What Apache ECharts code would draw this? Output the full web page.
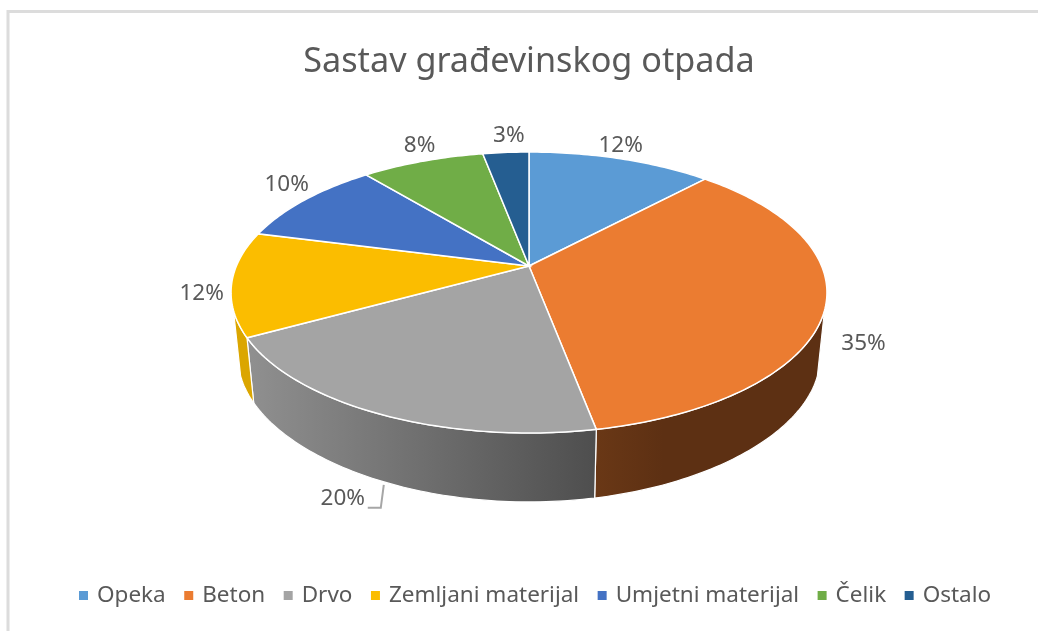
<!DOCTYPE html>
<html><head><meta charset="utf-8">
<style>html,body{margin:0;padding:0;background:#fff}#c{width:1038px;height:631px}</style>
<script src="https://cdn.jsdelivr.net/npm/echarts@6/dist/echarts.min.js"></script>
</head><body><div id="c"></div>
<script>
const titleText = 'Sastav građevinskog otpada';
const categories = ['Opeka','Beton','Drvo','Zemljani materijal','Umjetni materijal','Čelik','Ostalo'];
const values = [12,35,20,12,10,8,3];
const topColors = ['#5B9BD5','#EB7C31','#A4A4A4','#FBBD00','#4472C4','#70AD47','#255E91'];
const sideFrom = ['#3a6d9c','#6a3816','#909090','#dba600','#2f5597','#4e7a31','#1a4266'];
const sideTo = ['#3a6d9c','#5d3013','#4e4e4e','#dba600','#2f5597','#4e7a31','#1a4266'];
// label offsets in px from the slice's rim point at its middle angle
const labelOffsets = [[0,-13],[38,38],[-36,85],[-30,10],[-18,-15],[-3,-16],[3,-17]];

const geo = {cx:529, cy:266, B:292.6, A:135.5, k:-0.1886,
             s:0.976, y0:333, A2:128.4, k2:-0.24, sideStart:108, sideEnd:252};
const total = values.reduce((a,b)=>a+b,0);
const startAngle = i => values.slice(0,i).reduce((a,b)=>a+b,0)/total*360;

function topPt(deg){
  const t=deg*Math.PI/180,u=Math.sin(t),v=-Math.cos(t),d=1+geo.k*v;
  return [geo.cx+geo.B*u/d, geo.cy+geo.A*v/d];
}
function botPt(deg){
  const t=deg*Math.PI/180,u=Math.sin(t),v=-Math.cos(t);
  return [geo.cx+geo.s*geo.B*u/(1+geo.k*v), geo.y0+geo.A2*v/(1+geo.k2*v)];
}
function arc(fn,a,b){
  const n=Math.max(2,Math.ceil(Math.abs(b-a)));
  const p=[];
  for(let i=0;i<=n;i++)p.push(fn(a+(b-a)*i/n));
  return p;
}
function renderSlice(i){
  const a=startAngle(i), b=a+values[i]/total*360;
  const children=[];
  const sa=Math.max(a,geo.sideStart), sb=Math.min(b,geo.sideEnd);
  if(sb>sa){
    const pts=arc(topPt,sa,sb).concat(arc(botPt,sb,sa));
    children.push({type:'polygon',shape:{points:pts},
      style:{fill:{type:'linear',x:0,y:0,x2:1,y2:0,
        colorStops:[{offset:0,color:sideFrom[i]},{offset:i===1?0.3:1,color:sideTo[i]}]},
        stroke:'#fff',lineWidth:1.2}});
  }
  const topPts=[[geo.cx,geo.cy]].concat(arc(topPt,a,b));
  children.push({type:'polygon',shape:{points:topPts},style:{fill:topColors[i],stroke:'#fff',lineWidth:1.5}});
  const mid=topPt((a+b)/2), off=labelOffsets[i];
  const lx=mid[0]+off[0], ly=mid[1]+off[1];
  children.push({type:'text',style:{x:lx,y:ly,text:values[i]+'%',fill:'#595959',
    font:'22.5px "Noto Sans"',align:'center',verticalAlign:'middle'}});
  if(i===2){
    children.push({type:'polyline',shape:{points:[[lx+25,ly+9],[lx+38,ly+9],[lx+41,ly-14]]},
      style:{fill:'none',stroke:'#a6a6a6',lineWidth:2}});
  }
  return {type:'group',children};
}
const chart=echarts.init(document.getElementById('c'),null,{renderer:'canvas'});
chart.setOption({
  animation:false,
  backgroundColor:'#fff',
  title:{text:titleText,left:524,top:40,textAlign:'center',
    textStyle:{color:'#595959',fontSize:34.2,fontWeight:'normal',fontFamily:'Noto Sans'}},
  legend:{data:categories,bottom:19,left:74,icon:'rect',itemWidth:9,itemHeight:9,itemGap:18.5,
    textStyle:{color:'#595959',fontSize:22.5,fontFamily:'Noto Sans',padding:[0,0,0,4]}},
  graphic:[{type:'rect',silent:true,z:-1,shape:{x:8,y:11.5,width:1040,height:640},
    style:{fill:'none',stroke:'#dcdcdc',lineWidth:3}}],
  series:categories.map((name,i)=>({
    type:'custom',name,coordinateSystem:'none',
    itemStyle:{color:topColors[i]},
    data:[[values[i]]],
    renderItem:()=>renderSlice(i)
  }))
});
</script></body></html>
